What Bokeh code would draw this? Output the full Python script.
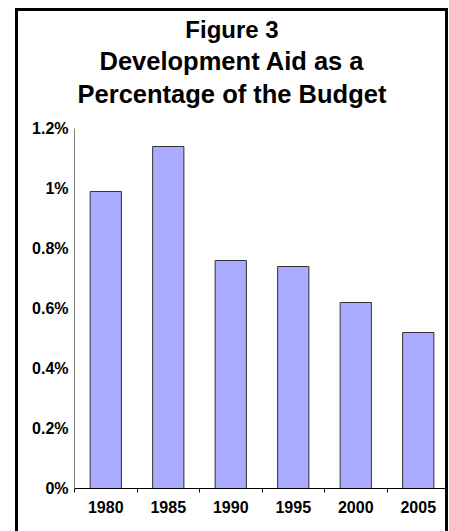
from bokeh.plotting import figure
from bokeh.models import Range1d, FixedTicker, Title, LinearAxis
from bokeh.embed import file_html
from bokeh.resources import INLINE

# ---- data ----
years = ["1980", "1985", "1990", "1995", "2000", "2005"]
aid_pct = [0.99, 1.14, 0.76, 0.74, 0.62, 0.52]
y_ticks = [0, 0.2, 0.4, 0.6, 0.8, 1.0, 1.2]
y_tick_labels = ["0%", "0.2%", "0.4%", "0.6%", "0.8%", "1%", "1.2%"]
title_lines = ["Figure 3", "Development Aid as a", "Percentage of the Budget"]
title_sizes = [24, 25.5, 25.5]
title_standoffs = [2, 2, 4]

FONT = "Liberation Sans"

# Arial/Liberation Sans Bold advance widths (1/1000 em), used to centre titles
ADV = {' ': 278, '3': 556, 'A': 722, 'B': 722, 'D': 722, 'F': 611, 'P': 667,
       'a': 556, 'c': 556, 'd': 611, 'e': 556, 'f': 333, 'g': 611, 'h': 611,
       'i': 278, 'l': 278, 'm': 889, 'n': 611, 'o': 611, 'p': 611, 'r': 389,
       's': 556, 't': 333, 'u': 611, 'v': 556}

def text_width(s, size):
    return sum(ADV.get(c, 556) for c in s) * size / 1000.0

# ---- layout constants (pixels) ----
W, H = 427, 520
BORDER_L, BORDER_R, BORDER_B, BORDER_T = 56, 2, 46, 117
TITLE_CENTER = W / 2
SPACER = 19

xs = list(range(len(years)))
bounds = [i - 0.5 for i in xs] + [xs[-1] + 0.5]

p = figure(
    width=W, height=H,
    output_backend="svg", toolbar_location=None,
    x_range=Range1d(-0.5, len(years) - 0.5),
    y_range=Range1d(0, 1.2),
    min_border_left=BORDER_L, min_border_right=BORDER_R,
    min_border_top=BORDER_T, min_border_bottom=BORDER_B,
    title=None,
)
p.margin = (8, 0, 0, 15)
p.styles = {
    "box-sizing": "content-box",
    "border-top": "3px solid black",
    "border-left": "3px solid black",
    "border-right": "3px solid black",
    "border-bottom": "0px solid black",
}
p.outline_line_color = None
p.xgrid.grid_line_color = None
p.ygrid.grid_line_color = None

p.vbar(x=xs, top=aid_pct, width=0.5, fill_color="#AAAAFF",
       line_color="#333333", line_width=1)

xa = p.below[0]
ya = p.left[0]

xa.ticker = FixedTicker(ticks=xs, minor_ticks=bounds)
xa.major_label_overrides = {i: y for i, y in zip(xs, years)}
xa.major_tick_out = 0
xa.major_tick_in = 0
xa.minor_tick_out = 4
xa.minor_tick_in = 0
xa.minor_tick_line_color = "black"
xa.axis_line_color = "black"
xa.major_label_text_font = FONT
xa.major_label_text_font_style = "bold"
xa.major_label_text_font_size = "16px"
xa.major_label_text_color = "black"
xa.major_label_standoff = 8

ya.ticker = FixedTicker(ticks=y_ticks)
ya.major_label_overrides = {t: l for t, l in zip(y_ticks, y_tick_labels)}
ya.major_tick_out = 0
ya.major_tick_in = 0
ya.minor_tick_line_color = None
ya.axis_line_color = "#808080"
ya.major_label_text_font = FONT
ya.major_label_text_font_style = "bold"
ya.major_label_text_font_size = "16px"
ya.major_label_text_color = "black"
ya.major_label_standoff = 6

# invisible (white) spacer between plot area and titles
spacer = LinearAxis(ticker=FixedTicker(ticks=[xs[0]]), major_tick_out=SPACER,
                    major_tick_in=0, minor_tick_out=0, minor_tick_in=0,
                    axis_line_color=None, major_tick_line_color="white",
                    minor_tick_line_color=None, major_label_standoff=0,
                    major_label_overrides={xs[0]: ""},
                    major_label_text_font_size="0px")
p.add_layout(spacer, "above")

for i in reversed(range(len(title_lines))):
    txt, size = title_lines[i], title_sizes[i]
    off = TITLE_CENTER - BORDER_L - text_width(txt, size) / 2
    p.add_layout(Title(text=txt, align="left", offset=off,
                       text_font=FONT, text_font_style="bold",
                       text_font_size=f"{size}px", text_color="black",
                       standoff=title_standoffs[i]), "above")

open("out.html", "w").write(file_html(p, INLINE))
